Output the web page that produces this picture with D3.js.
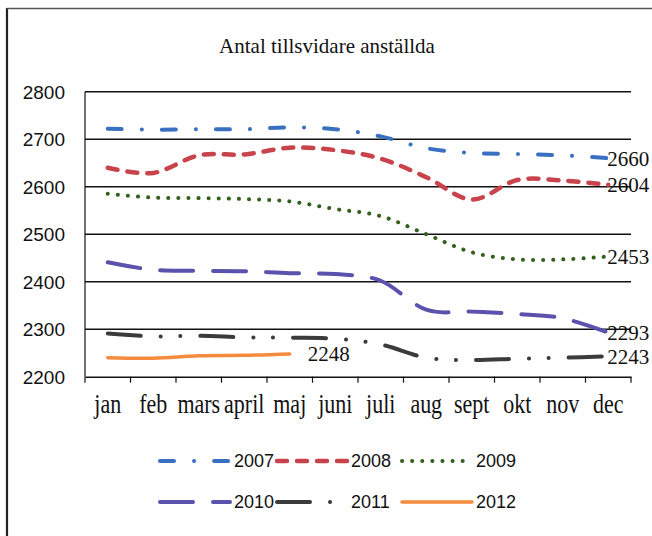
<!DOCTYPE html>
<html>
<head>
<meta charset="utf-8">
<script src="https://cdn.jsdelivr.net/npm/d3@7"></script>
<style>
  body { margin: 0; background: #fff; }
  svg { display: block; }
</style>
</head>
<body>
<script>
var months = ["jan", "feb", "mars", "april", "maj", "juni", "juli", "aug", "sept", "okt", "nov", "dec"];
var yTicks = [2200, 2300, 2400, 2500, 2600, 2700, 2800];

var years = ["2007", "2008", "2009", "2010", "2011", "2012"];
var v2007 = [2722, 2720, 2721, 2721, 2725, 2721, 2706, 2681, 2671, 2669, 2666, 2660];
var v2008 = [2640, 2629, 2666, 2668, 2682, 2677, 2659, 2620, 2573, 2614, 2613, 2604];
var v2009 = [2585, 2577, 2576, 2574, 2569, 2553, 2538, 2500, 2462, 2447, 2447, 2453];
var v2010 = [2441, 2425, 2423, 2422, 2418, 2416, 2402, 2341, 2337, 2332, 2323, 2293];
var v2011 = [2291, 2285, 2286, 2283, 2282, 2280, 2268, 2240, 2235, 2238, 2240, 2243];
var v2012 = [2240, 2239, 2244, 2245, 2248];
var endLabels = ["2660", "2604", "2453", "2293", "2243", "2248"];

var width = 652,
    height = 536,
    plotLeft = 85,
    plotRight = 631,
    plotTop = 91.7,
    plotBottom = 376.7;

var series = [
  { name: years[0], values: v2007, color: "#3a70c2", dash: "14 20 0.1 20", w: 4 },
  { name: years[1], values: v2008, color: "#c8434b", dash: "10 10", w: 4.5 },
  { name: years[2], values: v2009, color: "#355f1d", dash: "0.1 10", w: 4 },
  { name: years[3], values: v2010, color: "#5a52ac", dash: "33 20", w: 4 },
  { name: years[4], values: v2011, color: "#3b3b3b", dash: "33 20 0.1 19.5 0.1 20", w: 4 },
  { name: years[5], values: v2012, color: "#f58b3d", dash: null, w: 3.5 }
];

var serif = "Liberation Serif, serif";
var sans = "Liberation Sans Narrow, Arial Narrow, Liberation Sans, sans-serif";

var svg = d3.select("body").append("svg")
    .attr("width", width)
    .attr("height", height);

// scanned frame
svg.append("line")
    .attr("x1", 7).attr("y1", 8).attr("x2", 7).attr("y2", height)
    .attr("stroke", "#222").attr("stroke-width", 2.2);
svg.append("line")
    .attr("x1", 7).attr("y1", 8.5).attr("x2", width).attr("y2", 8.5)
    .attr("stroke", "#555").attr("stroke-width", 1.5);

svg.append("text")
    .attr("x", 327)
    .attr("y", 53)
    .attr("text-anchor", "middle")
    .attr("font-family", serif)
    .attr("font-size", 21)
    .attr("fill", "#111")
    .text("Antal tillsvidare anställda");

var x = d3.scaleBand().domain(months).range([plotLeft, plotRight]).padding(0);
var y = d3.scaleLinear().domain([2200, 2800]).range([plotBottom, plotTop]);
var cx = function(m) { return x(m) + x.bandwidth() / 2; };

// gridlines
svg.append("g")
    .selectAll("line")
    .data(yTicks.slice(1))
    .enter().append("line")
    .attr("x1", plotLeft).attr("x2", plotRight)
    .attr("y1", function(d) { return y(d); })
    .attr("y2", function(d) { return y(d); })
    .attr("stroke", "#111").attr("stroke-width", 1.4);

// y axis labels
svg.append("g")
    .selectAll("text")
    .data(yTicks)
    .enter().append("text")
    .attr("x", 65)
    .attr("y", function(d) { return y(d); })
    .attr("dy", "0.36em")
    .attr("text-anchor", "end")
    .attr("font-family", sans)
    .attr("font-size", 19)
    .attr("fill", "#111")
    .text(function(d) { return d; });

// left axis line
svg.append("line")
    .attr("x1", plotLeft).attr("x2", plotLeft).attr("y1", plotTop).attr("y2", plotBottom)
    .attr("stroke", "#111").attr("stroke-width", 1.2);

// x axis
var xAxis = svg.append("g")
    .attr("transform", "translate(0," + plotBottom + ")")
    .call(d3.axisBottom(x).tickSize(0));
xAxis.select(".domain").attr("stroke", "#111").attr("stroke-width", 1.4);
// the scan stretches the month names a bit in height
xAxis.selectAll("text")
    .attr("font-family", serif)
    .attr("font-size", 22)
    .attr("fill", "#111")
    .attr("y", 36 / 1.22)
    .attr("dy", 0)
    .attr("transform", "scale(1,1.22)");
xAxis.selectAll("line.bound")
    .data(months.concat(["end"]))
    .enter().append("line")
    .attr("class", "bound")
    .attr("x1", function(d, i) { return plotLeft + i * x.bandwidth(); })
    .attr("x2", function(d, i) { return plotLeft + i * x.bandwidth(); })
    .attr("y1", 0).attr("y2", 6)
    .attr("stroke", "#111").attr("stroke-width", 1.2);

// series lines
var line = d3.line()
    .x(function(d, i) { return cx(months[i]); })
    .y(function(d) { return y(d); })
    .curve(d3.curveCardinal.tension(0));

svg.append("g")
    .selectAll("path")
    .data(series)
    .enter().append("path")
    .attr("d", function(s) { return line(s.values); })
    .attr("fill", "none")
    .attr("stroke", function(s) { return s.color; })
    .attr("stroke-width", function(s) { return s.w; })
    .attr("stroke-linecap", "round")
    .attr("stroke-dasharray", function(s) { return s.dash; });

// end labels
svg.append("g")
    .selectAll("text")
    .data(series)
    .enter().append("text")
    .attr("x", function(s) {
        var m = months[s.values.length - 1];
        return cx(m) + (s.values.length < 12 ? 18 : -1);
    })
    .attr("y", function(s) { return y(s.values[s.values.length - 1]); })
    .attr("dy", "0.36em")
    .attr("font-family", serif)
    .attr("font-size", 21)
    .attr("fill", "#111")
    .text(function(s, i) { return endLabels[i]; });

// legend
var legCols = [158, 275, 400];
var legRows = [461, 502];
var leg = svg.append("g")
    .selectAll("g")
    .data(series)
    .enter().append("g")
    .attr("transform", function(s, i) {
        return "translate(" + legCols[i % 3] + "," + legRows[Math.floor(i / 3)] + ")";
    });
leg.append("line")
    .attr("x1", 2).attr("x2", 72).attr("y1", 0).attr("y2", 0)
    .attr("stroke", function(s) { return s.color; })
    .attr("stroke-width", function(s) { return s.w; })
    .attr("stroke-linecap", "round")
    .attr("stroke-dasharray", function(s) { return s.dash; });
leg.append("text")
    .attr("x", 76)
    .attr("y", 0)
    .attr("dy", "0.36em")
    .attr("font-family", sans)
    .attr("font-size", 18)
    .attr("fill", "#111")
    .text(function(s) { return s.name; });
</script>
</body>
</html>
